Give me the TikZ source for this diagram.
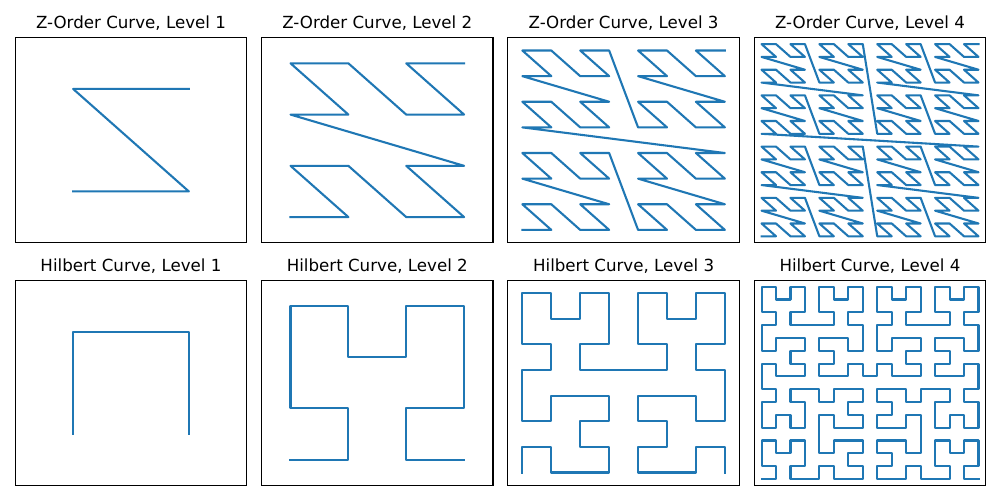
\documentclass[tikz,border=0pt]{standalone}
\usepackage{fontspec}
\setmainfont{DejaVu Sans}
\definecolor{mplblue}{HTML}{1F77B4}
\tikzset{
  frame/.style={draw=black, line width=1.1pt},
  curve/.style={draw=mplblue, line width=2.08pt, line join=round, line cap=rect},
  paneltitle/.style={font=\fontsize{16.67}{20}\selectfont, anchor=base, inner sep=0pt}
}
% Z-order: d -> (\cvX,\cvY)
\newcommand\zxy[1]{%
  \pgfmathtruncatemacro\cvX{mod(#1,2)+2*mod(div(#1,4),2)+4*mod(div(#1,16),2)+8*mod(div(#1,64),2)}%
  \pgfmathtruncatemacro\cvY{mod(div(#1,2),2)+2*mod(div(#1,8),2)+4*mod(div(#1,32),2)+8*mod(div(#1,128),2)}%
}
% Hilbert: n, d -> (\cvX,\cvY)
\newcommand\hilbxy[2]{%
  \pgfmathtruncatemacro\cvT{#2}%
  \def\cvX{0}\def\cvY{0}\def\cvS{1}%
  \loop\ifnum\cvS<#1\relax
    \pgfmathtruncatemacro\cvRX{mod(div(\cvT,2),2)}%
    \pgfmathtruncatemacro\cvRY{mod(\cvT+\cvRX,2)}%
    \ifnum\cvRY=0
      \ifnum\cvRX=1
        \pgfmathtruncatemacro\cvX{\cvS-1-\cvX}%
        \pgfmathtruncatemacro\cvY{\cvS-1-\cvY}%
      \fi
      \let\cvTmp\cvX \let\cvX\cvY \let\cvY\cvTmp
    \fi
    \pgfmathtruncatemacro\cvX{\cvX+\cvS*\cvRX}%
    \pgfmathtruncatemacro\cvY{\cvY+\cvS*\cvRY}%
    \pgfmathtruncatemacro\cvT{div(\cvT,4)}%
    \pgfmathtruncatemacro\cvS{2*\cvS}%
  \repeat
}
% #1 left, #2 top, #3 title, #4 z|h, #5 n, #6 name
\newcommand\curvepanel[6]{%
  \def\cvW{231.4}\def\cvH{205}%
  \def\cvList{}%
  \pgfmathtruncatemacro\cvN{#5*#5-1}%
  \foreach \d in {0,...,\cvN}{%
    \ifx z#4\zxy{\d}\else\hilbxy{#5}{\d}\fi
    \pgfmathsetmacro\cvPX{#1+(\cvX+0.5)*\cvW/#5}%
    \pgfmathsetmacro\cvPY{#2+\cvH-(\cvY+0.5)*\cvH/#5}%
    \xdef\cvList{\cvList (\cvPX,\cvPY)}%
  }%
  \edef\cvDo{\noexpand\draw[curve] plot coordinates {\cvList};}\cvDo
  \node[frame, minimum width=\cvW pt, minimum height=\cvH pt, anchor=north west, inner sep=0pt, outer sep=0pt] (#6) at (#1,#2) {};
  \node[paneltitle] (#6t) at (#1+\cvW/2,#2-8.8) {#3};
}
\begin{document}
\begin{tikzpicture}[x=1pt,y=-1pt]
\fill[white] (0,0) rectangle (1000,500);
\useasboundingbox (0,0) rectangle (1000,500);
\curvepanel{15.3}{37.7}{Z-Order Curve, Level 1}{z}{2}{za}
\curvepanel{261.6}{37.7}{Z-Order Curve, Level 2}{z}{4}{zb}
\curvepanel{507.9}{37.7}{Z-Order Curve, Level 3}{z}{8}{zc}
\curvepanel{754.3}{37.7}{Z-Order Curve, Level 4}{z}{16}{zd}
\curvepanel{15.3}{280.3}{Hilbert Curve, Level 1}{h}{2}{ha}
\curvepanel{261.6}{280.3}{Hilbert Curve, Level 2}{h}{4}{hb}
\curvepanel{507.9}{280.3}{Hilbert Curve, Level 3}{h}{8}{hc}
\curvepanel{754.3}{280.3}{Hilbert Curve, Level 4}{h}{16}{hd}
\end{tikzpicture}
\end{document}
